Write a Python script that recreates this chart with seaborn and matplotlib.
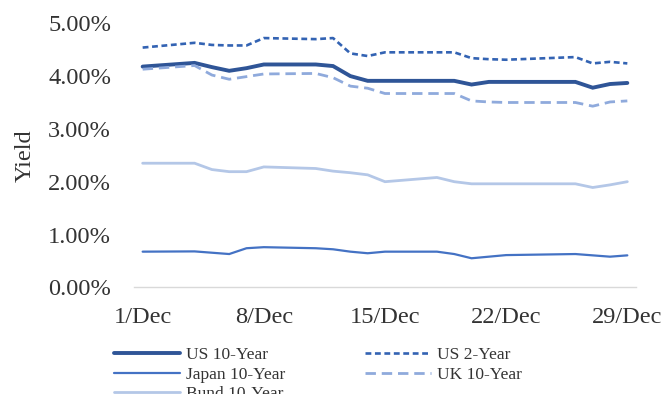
import matplotlib
matplotlib.use("Agg")
import matplotlib.pyplot as plt
from matplotlib.ticker import FuncFormatter
import pandas as pd
import seaborn as sns

# Trading days in December 2023
dates = ["2023-12-01", "2023-12-04", "2023-12-05", "2023-12-06", "2023-12-07",
         "2023-12-08", "2023-12-11", "2023-12-12", "2023-12-13", "2023-12-14",
         "2023-12-15", "2023-12-18", "2023-12-19", "2023-12-20", "2023-12-21",
         "2023-12-22", "2023-12-26", "2023-12-27", "2023-12-28", "2023-12-29"]

# Yields in percent
us_10y = [4.18, 4.25, 4.17, 4.10, 4.15, 4.22, 4.22, 4.19, 4.00, 3.91,
          3.91, 3.91, 3.91, 3.84, 3.89, 3.89, 3.89, 3.78, 3.85, 3.87]
us_2y = [4.54, 4.63, 4.59, 4.58, 4.58, 4.72, 4.70, 4.72, 4.43, 4.38,
         4.45, 4.45, 4.45, 4.34, 4.32, 4.31, 4.36, 4.24, 4.27, 4.24]
japan_10y = [0.675, 0.68, 0.655, 0.63, 0.74, 0.76, 0.74, 0.72, 0.675, 0.645,
             0.675, 0.675, 0.63, 0.55, 0.58, 0.61, 0.63, 0.605, 0.58, 0.605]
uk_10y = [4.13, 4.20, 4.02, 3.94, 3.99, 4.04, 4.05, 3.97, 3.81, 3.77,
          3.67, 3.67, 3.67, 3.53, 3.51, 3.50, 3.50, 3.43, 3.51, 3.53]
bund_10y = [2.35, 2.35, 2.23, 2.19, 2.19, 2.28, 2.25, 2.20, 2.17, 2.13,
            2.00, 2.08, 2.00, 1.96, 1.96, 1.96, 1.96, 1.89, 1.94, 2.00]

series_names = ["US 10-Year", "US 2-Year", "Japan 10-Year", "UK 10-Year", "Bund 10-Year"]
tick_dates = ["2023-12-01", "2023-12-08", "2023-12-15", "2023-12-22", "2023-12-29"]
tick_labels = ["1/Dec", "8/Dec", "15/Dec", "22/Dec", "29/Dec"]
y_ticks = [0, 1, 2, 3, 4, 5]

df = pd.DataFrame({"date": pd.to_datetime(dates),
                   "US 10-Year": us_10y, "US 2-Year": us_2y,
                   "Japan 10-Year": japan_10y, "UK 10-Year": uk_10y,
                   "Bund 10-Year": bund_10y})
long_df = df.melt(id_vars="date", var_name="series", value_name="yield")

styles = {
    "US 10-Year":    dict(color="#2f5597", lw=2.8, ls="-"),
    "US 2-Year":     dict(color="#3363b3", lw=1.9, ls=(0, (4.2, 2.6))),
    "Japan 10-Year": dict(color="#4472c4", lw=1.6, ls="-"),
    "UK 10-Year":    dict(color="#8faadc", lw=2.0, ls=(0, (7.5, 4.2))),
    "Bund 10-Year":  dict(color="#b4c7e7", lw=2.0, ls="-"),
}

sns.set_theme(style="white")
plt.rcParams["font.family"] = ["Liberation Serif", "DejaVu Serif"]
plt.rcParams["lines.scale_dashes"] = False

fig = plt.figure(figsize=(6.64, 3.94), dpi=100)
ax = fig.add_axes([0.2018, 0.2708, 0.7560, 0.6701])

for name in series_names:
    st = styles[name]
    sns.lineplot(data=long_df[long_df["series"] == name], x="date", y="yield",
                 ax=ax, color=st["color"], linewidth=st["lw"], linestyle=st["ls"],
                 label=name, legend=False, solid_joinstyle="miter")

start = pd.Timestamp(dates[0]) - pd.Timedelta(hours=12)
end = pd.Timestamp(dates[-1]) + pd.Timedelta(hours=12)
ax.set_xlim(start, end)
ax.set_ylim(0, 5)
ax.set_yticks(y_ticks)
ax.yaxis.set_major_formatter(FuncFormatter(lambda v, _: f"{v:.2f}%"))
ax.set_xticks(pd.to_datetime(tick_dates))
ax.set_xticklabels(tick_labels)

text_color = "#333333"
ax.tick_params(axis="y", length=0, pad=16.5, labelsize=17.6, labelcolor=text_color)
ax.tick_params(axis="x", length=0, pad=14, labelsize=17.6, labelcolor=text_color)
ax.set_xlabel("")
ax.set_ylabel("Yield", fontsize=17.6, color=text_color, labelpad=9)

for side in ["top", "right", "left"]:
    ax.spines[side].set_visible(False)
ax.spines["bottom"].set_color("#d9d9d9")
ax.spines["bottom"].set_linewidth(1.0)
ax.grid(False)

# Legend laid out row by row: two entries per row
handles, labels = ax.get_legend_handles_labels()
order = [0, 2, 4, 1, 3]
leg = fig.legend([handles[i] for i in order], [labels[i] for i in order],
                 ncol=2, frameon=False,
                 loc="upper left", bbox_to_anchor=(114 / 664, 1 - 347 / 394),
                 fontsize=12.5, handlelength=3.8, handletextpad=0.35,
                 columnspacing=4.6, labelspacing=0.2, borderaxespad=0,
                 borderpad=0)
for t in leg.get_texts():
    t.set_color(text_color)

fig.savefig("out.png", dpi=100)
